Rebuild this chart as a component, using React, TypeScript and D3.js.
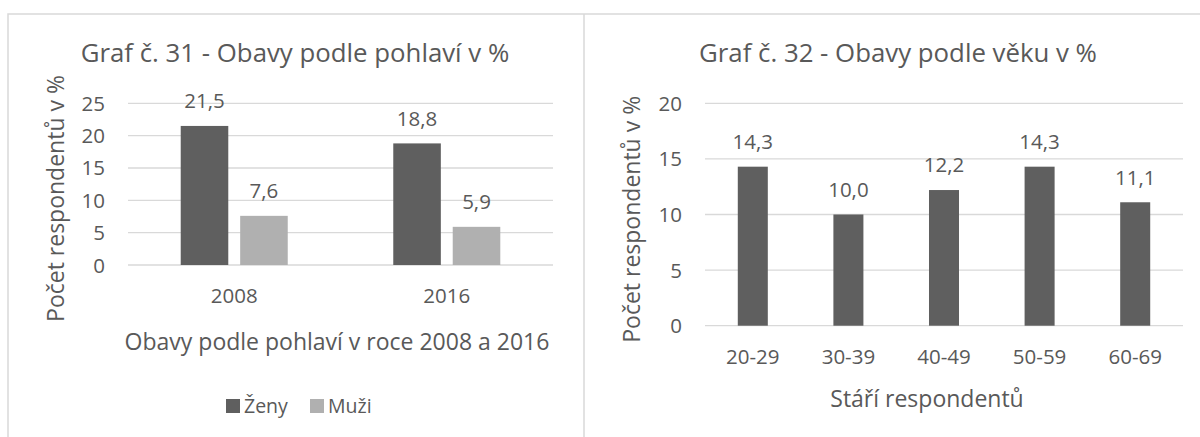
import { useEffect, useRef } from 'react'
import * as d3 from 'd3'

// Graf č. 31 – obavy podle pohlaví
const years = ['2008', '2016']
const genders = ['Ženy', 'Muži']
const genderColors = ['#5f5f5f', '#b0b0b0']
const zeny = [21.5, 18.8]
const muzi = [7.6, 5.9]
const genderTicks = [0, 5, 10, 15, 20, 25]

// Graf č. 32 – obavy podle věku
const ageGroups = ['20-29', '30-39', '40-49', '50-59', '60-69']
const ageValues = [14.3, 10.0, 12.2, 14.3, 11.1]
const ageTicks = [0, 5, 10, 15, 20]

const FONT = '"Open Sans", sans-serif'
const TEXT = '#595959'
const GRID = '#d9d9d9'

const csLocale = d3.formatLocale({ decimal: ',', thousands: ' ', grouping: [3], currency: ['', ' Kč'] })
const fmt = csLocale.format('.1f')

export default function App() {
  const svgRef = useRef<SVGSVGElement>(null)

  useEffect(() => {
    document.body.style.margin = '0'
    if (!svgRef.current) return
    const svg = d3.select(svgRef.current)
    svg.selectAll('*').remove()

    // frames
    svg.append('path')
      .attr('d', 'M8,440 L8,14 L1200,14 M584,14 L584,440')
      .attr('fill', 'none').attr('stroke', GRID).attr('stroke-width', 1.5)

    const text = (x: number, y: number, t: string, size: number, anchor = 'middle') =>
      svg.append('text')
        .attr('x', x).attr('y', y)
        .attr('text-anchor', anchor)
        .attr('font-family', FONT).attr('font-size', size)
        .attr('fill', TEXT).text(t)

    // ---------- left chart ----------
    {
      const x0 = d3.scaleBand().domain(years).range([128, 553]).paddingInner(0.4965).paddingOuter(0.248)
      const x1 = d3.scaleBand().domain(genders).range([0, x0.bandwidth()]).paddingInner(0.2)
      const y = d3.scaleLinear().domain([0, 25]).range([265, 103.3])
      const g = svg.append('g')

      g.selectAll('line.grid').data(genderTicks).join('line')
        .attr('x1', 128).attr('x2', 553)
        .attr('y1', d => y(d)).attr('y2', d => y(d))
        .attr('stroke', GRID).attr('stroke-width', 1.3)

      g.selectAll('text.tick').data(genderTicks).join('text')
        .attr('x', 105).attr('y', d => y(d) + 7.5)
        .attr('text-anchor', 'end')
        .attr('font-family', FONT).attr('font-size', 20.5).attr('fill', TEXT)
        .text(d => String(d))

      const series = [zeny, muzi]
      years.forEach((yr, i) => {
        genders.forEach((gn, j) => {
          const v = series[j][i]
          const bx = x0(yr)! + x1(gn)!
          g.append('rect')
            .attr('x', bx).attr('y', y(v))
            .attr('width', x1.bandwidth()).attr('height', y(0) - y(v))
            .attr('fill', genderColors[j])
          text(bx + x1.bandwidth() / 2, y(v) - 17.6, fmt(v), 20.5)
        })
        text(x0(yr)! + x0.bandwidth() / 2, 303.3, yr, 20.5)
      })

      text(295, 62, 'Graf č. 31 - Obavy podle pohlaví v %', 25.8)
      text(337, 350, 'Obavy podle pohlaví v roce 2008 a 2016', 23)
      text(0, 0, 'Počet respondentů v %', 23)
        .attr('transform', 'translate(64,198.5) rotate(-90)')

      // legend
      const legendX = [226, 310]
      genders.forEach((gn, j) => {
        svg.append('rect')
          .attr('x', legendX[j]).attr('y', 399).attr('width', 14).attr('height', 14)
          .attr('fill', genderColors[j])
        text(legendX[j] + 18, 413, gn, 19.5, 'start')
      })
    }

    // ---------- right chart ----------
    {
      const x = d3.scaleBand().domain(ageGroups).range([705, 1183]).paddingInner(0.686).paddingOuter(0.343)
      const y = d3.scaleLinear().domain([0, 20]).range([325.7, 103.3])
      const g = svg.append('g')

      g.selectAll('line.grid').data(ageTicks).join('line')
        .attr('x1', 705).attr('x2', 1183)
        .attr('y1', d => y(d)).attr('y2', d => y(d))
        .attr('stroke', GRID).attr('stroke-width', 1.3)

      g.selectAll('text.tick').data(ageTicks).join('text')
        .attr('x', 682).attr('y', d => y(d) + 7.5)
        .attr('text-anchor', 'end')
        .attr('font-family', FONT).attr('font-size', 20.5).attr('fill', TEXT)
        .text(d => String(d))

      ageGroups.forEach((a, i) => {
        const v = ageValues[i]
        g.append('rect')
          .attr('x', x(a)!).attr('y', y(v))
          .attr('width', x.bandwidth()).attr('height', y(0) - y(v))
          .attr('fill', genderColors[0])
        const cx = x(a)! + x.bandwidth() / 2
        text(cx, y(v) - 17.6, fmt(v), 20.5)
        text(cx, 364, a, 20.5)
      })

      text(898, 62, 'Graf č. 32 - Obavy podle věku v %', 25.8)
      text(927, 407, 'Stáří respondentů', 23)
      text(0, 0, 'Počet respondentů v %', 23)
        .attr('transform', 'translate(640,219.3) rotate(-90)')
    }
  }, [])

  return <svg ref={svgRef} width={1200} height={437} style={{ display: 'block' }} />
}
